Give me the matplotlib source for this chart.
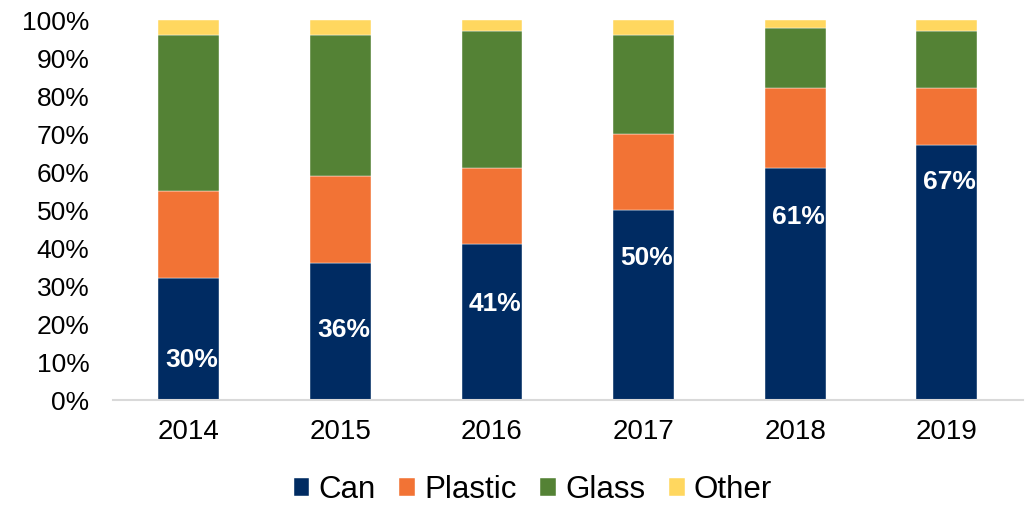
import matplotlib
matplotlib.use("Agg")
import matplotlib.pyplot as plt
import numpy as np

years = ["2014", "2015", "2016", "2017", "2018", "2019"]
can = [32, 36, 41, 50, 61, 67]
plastic = [23, 23, 20, 20, 21, 15]
glass = [41, 37, 36, 26, 16, 15]
other = [4, 4, 3, 4, 2, 3]
series_names = ["Can", "Plastic", "Glass", "Other"]
can_labels = ["30%", "36%", "41%", "50%", "61%", "67%"]
y_ticks = [0, 10, 20, 30, 40, 50, 60, 70, 80, 90, 100]

# label vertical positions (data units)
label_y = [10.5, 18.4, 25.3, 37.3, 48.2, 57.4]

colors = ["#002B62", "#F27335", "#548235", "#FFD75F"]

plt.rcParams['font.family'] = ['Liberation Sans', 'DejaVu Sans']

fig = plt.figure(figsize=(10.30, 5.07), dpi=100)
ax = fig.add_axes([113/1030, 1-400/507, (1022.6-113)/1030, 380/507])

x = np.arange(len(years))
bottom = np.zeros(len(years))
for name, vals, c in zip(series_names, [can, plastic, glass, other], colors):
    ax.bar(x, vals, width=0.4, bottom=bottom, color=c, label=name,
           edgecolor='white', linewidth=0.3)
    bottom += np.array(vals)

for xi, t, yy in zip(x, can_labels, label_y):
    ax.text(xi + 0.02, yy, t, ha='center', va='center', color='white',
            fontsize=19, fontweight='bold')

ax.set_xlim(-0.5, len(years) - 0.5)
ax.set_ylim(0, 100)
ax.set_yticks(y_ticks)
ax.set_yticklabels([f"{v}%" for v in y_ticks], fontsize=19)
ax.set_xticks(x)
ax.set_xticklabels(years, fontsize=20)
ax.tick_params(axis='y', length=0, pad=17)
ax.tick_params(axis='x', length=0, pad=14)
for s in ['top', 'right', 'left']:
    ax.spines[s].set_visible(False)
ax.spines['bottom'].set_color('#D9D9D9')
ax.spines['bottom'].set_linewidth(1.5)

leg = fig.legend(loc='center', bbox_to_anchor=(533/1030, 1-490/507), ncol=4,
                 frameon=False, fontsize=22.5, handlelength=0.5, handleheight=0.5,
                 handletextpad=0.3, columnspacing=0.75, borderaxespad=0)

fig.savefig("out.png", dpi=100)
